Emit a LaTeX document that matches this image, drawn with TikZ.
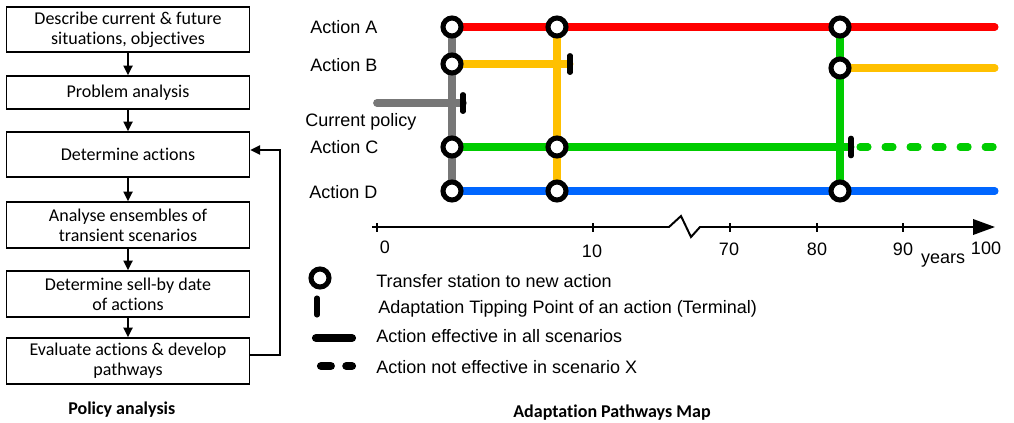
\documentclass[tikz,border=0pt]{standalone}
\usepackage{fontspec}
\setmainfont{Liberation Sans}
\newfontfamily\arialfont{Liberation Sans}
\newfontfamily\calfont{Carlito}
\usetikzlibrary{arrows.meta}
\definecolor{pathRed}{HTML}{FF0000}
\definecolor{pathYellow}{HTML}{FFC000}
\definecolor{pathGreen}{HTML}{00CC00}
\definecolor{pathBlue}{HTML}{0066FF}
\definecolor{pathGray}{HTML}{777777}
% plain "t" + "i" without the font's ti ligature
\newcommand{\tI}{t\kern0pt i}
\begin{document}
\begin{tikzpicture}[x=0.025cm,y=-0.025cm,
  flowbox/.style={draw, line width=0.9pt, minimum width=6.075cm, inner sep=1pt,
    align=center, font=\calfont\fontsize{12.8}{14.2}\selectfont},
  flowarrow/.style={line width=1.4pt, -{Triangle[length=7pt,width=6.5pt]}},
  caption/.style={anchor=base west, inner sep=0pt, font=\calfont\bfseries\fontsize{12.8}{15}\selectfont},
  txt/.style={anchor=base west, inner sep=0pt, font=\arialfont\fontsize{12.8}{15}\selectfont},
  axlabel/.style={anchor=base, inner sep=0pt, font=\arialfont\fontsize{12.8}{15}\selectfont},
  route/.style={line width=5pt, line cap=round},
  station/.style={circle, draw=black, fill=white, line width=3.6pt, minimum size=0.45cm, inner sep=0pt},
  tipping/.style={line width=3.6pt, line cap=round, black},
  future/.style={route, dash pattern=on 5.7pt off 12.1pt},
  axisline/.style={line width=1.4pt},
]
\useasboundingbox (0,0) rectangle (1014,422);

% ---------------- Policy analysis flowchart ----------------
\node[flowbox, minimum height=1.125cm] (b1) at (128,29.5) {Describe current \& future\\situa\tI ons, objec\tI ves};
\node[flowbox, minimum height=0.825cm] (b2) at (128,92.5) {Problem analysis};
\node[flowbox, minimum height=1.125cm] (b3) at (128,154.5) {Determine ac\tI ons};
\node[flowbox, minimum height=1.15cm] (b4) at (128,225) {Analyse ensembles of\\transient scenarios};
\node[flowbox, minimum height=1.15cm] (b5) at (128,294) {Determine sell-by date\\of ac\tI ons};
\node[flowbox, minimum height=1.15cm] (b6) at (128,361) {Evaluate ac\tI ons \& develop\\pathways};
\foreach \a/\b in {b1/b2,b2/b3,b3/b4,b4/b5,b5/b6}
  \draw[flowarrow] (\a.south) -- (\b.north);
\coordinate (fbLow) at (280,355);
\coordinate (fbHigh) at (280,150);
\draw[flowarrow] (b6.east |- fbLow) -- (fbLow) -- (fbHigh) -- (b3.east |- fbHigh);
\node[caption] (capL) at (68,414) {Policy analysis};

% ---------------- Adaptation pathways map ----------------
\node[txt] (lA) at (310,33) {Action A};
\node[txt] (lB) at (310,71) {Action B};
\node[txt] (lP) at (305,126) {Current policy};
\node[txt] (lC) at (310,153) {Action C};
\node[txt] (lD) at (309,198) {Action D};

% stations and end points
\coordinate (a1) at (452,27);  \coordinate (b1s) at (452,64);
\coordinate (c1) at (452,147); \coordinate (d1) at (452,191);
\coordinate (a2) at (557,27);  \coordinate (c2) at (557,147); \coordinate (d2) at (557,191);
\coordinate (a3) at (840,27);  \coordinate (b3s) at (840,68);  \coordinate (d3) at (840,191);
\coordinate (aEnd) at (995,27); \coordinate (bEnd) at (995,68);
\coordinate (dEnd) at (995,191);
\coordinate (polStart) at (377,103); \coordinate (polTip) at (463,103);
\coordinate (bTip) at (570,64);
\coordinate (cTip) at (851,147);
\coordinate (cDash) at (860,147); \coordinate (cEnd) at (995,147);

% current policy
\draw[route, pathGray, line width=5.5pt] (polStart) -- (polTip);
\draw[route, pathGray, line width=5.5pt, line cap=butt] (a1) -- (d1);
% action lines
\draw[route, pathRed] (a1) -- (aEnd);
\draw[route, pathYellow] (b1s) -- (bTip);
\draw[route, pathYellow, line cap=butt] (a2) -- (d2);
\draw[route, pathGreen] (c1) -- (cTip);
\draw[future, pathGreen] (cDash) -- (cEnd);
\draw[route, pathGreen, line cap=butt] (a3) -- (d3);
\draw[route, pathBlue] (d1) -- (dEnd);
\draw[route, pathYellow] (b3s) -- (bEnd);

% tipping points
\draw[tipping] ([yshift=0.21cm]polTip) -- ([yshift=-0.21cm]polTip);
\draw[tipping] ([yshift=0.21cm]bTip) -- ([yshift=-0.21cm]bTip);
\draw[tipping] ([yshift=0.22cm]cTip) -- ([yshift=-0.22cm]cTip);

% transfer stations
\foreach \s in {a1,b1s,c1,d1,a2,c2,d2,a3,b3s,d3}
  \node[station] at (\s) {};

% time axis
\coordinate (ax0) at (372,227);
\coordinate (brk1) at (669,227);
\coordinate (brk2) at (681,216);
\coordinate (brk3) at (691,237);
\coordinate (brk4) at (700,227);
\coordinate (axEnd) at (995,227);
\draw[axisline, -{Triangle[length=15.6pt,width=11pt]}] (ax0) -- (brk1) -- (brk2) -- (brk3) -- (brk4) -- (axEnd);
\foreach \t in {377,593,730,817,903}
  \draw[line width=1pt] (\t,223) -- (\t,232);
\node[axlabel] (t0) at (385,253) {0};
\node[axlabel] (t10) at (592,257) {10};
\node[axlabel] (t70) at (729,255) {70};
\node[axlabel] (t80) at (817,255) {80};
\node[axlabel] (t90) at (903,255) {90};
\node[axlabel] (t100) at (986,254) {100};
\node[axlabel] (yrs) at (943,263) {years};

% legend
\node[station] (legStation) at (320,278) {};
\node[txt] (legT1) at (376,287) {Transfer station to new action};
\coordinate (legTipTop) at (317,298); \coordinate (legTipBot) at (317,315);
\draw[tipping] (legTipTop) -- (legTipBot);
\node[txt] (legT2) at (378,313) {Adaptation Tipping Point of an action (Terminal)};
\coordinate (legSolidA) at (316,338); \coordinate (legSolidB) at (352,338);
\draw[route, black, line width=5.8pt] (legSolidA) -- (legSolidB);
\node[txt] (legT3) at (376,342) {Action effective in all scenarios};
\coordinate (legDashA) at (321,366); \coordinate (legDashB) at (352,366);
\draw[route, black, line width=5.8pt, dash pattern=on 7pt off 11pt] (legDashA) -- (legDashB);
\node[txt] (legT4) at (376,373) {Action not effective in scenario X};

\node[caption] (capR) at (513,417) {Adapta\tI on Pathways Map};
\end{tikzpicture}
\end{document}
